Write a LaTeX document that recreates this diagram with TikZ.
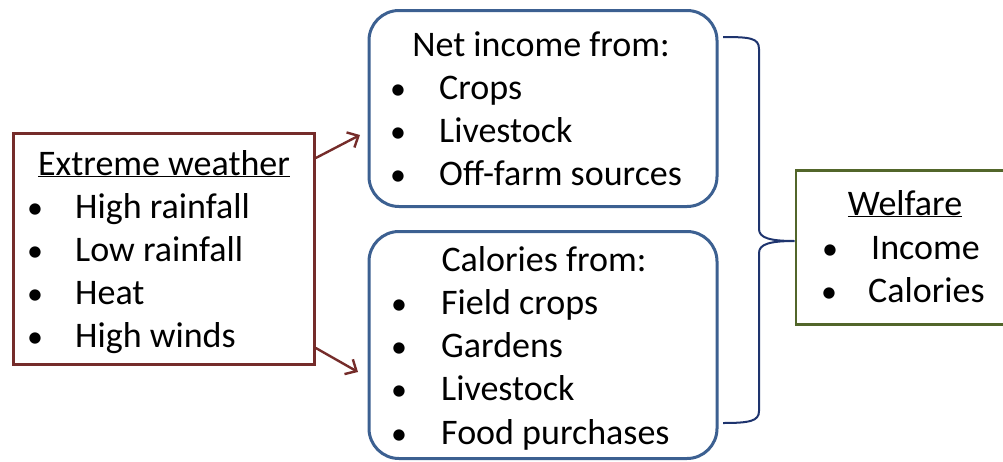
\documentclass[tikz,border=0pt]{standalone}
\usepackage{fontspec}
\setmainfont{Carlito}
\usetikzlibrary{arrows.meta}
\begin{document}
\begin{tikzpicture}[x=1pt, y=-1pt, font=\fontsize{36}{43}\selectfont]

\definecolor{cWx}{RGB}{117,44,42}
\definecolor{cBox}{RGB}{60,96,145}
\definecolor{cBrace}{RGB}{30,52,110}
\definecolor{cWel}{RGB}{82,102,42}

\tikzset{
  box/.style    = {draw, line width=2.6pt, inner sep=0pt},
  rbox/.style   = {box, cBox, line width=3pt, rounded corners=30pt},
  item/.style   = {inner sep=0pt, anchor=base west},
  bul/.style    = {inner sep=0pt, anchor=base, font=\fontsize{32}{43}\selectfont},
  head/.style   = {inner sep=0pt, anchor=base},
  arr/.style    = {cWx, line width=2.4pt, -{Straight Barb[length=9pt, width=17pt, line width=2.4pt]}},
  brc/.style    = {cBrace, line width=2pt},
}

\useasboundingbox (0,0) rectangle (1003,461);

%% ---------- the boxes ----------
\node[box, cWx,  minimum width=301, minimum height=231] (wx)  at (164,249)   {};
\node[rbox,      minimum width=348, minimum height=196] (net) at (543,108.5) {};
\node[rbox,      minimum width=348, minimum height=227] (cal) at (543,345)   {};
\node[box, cWel, minimum width=220, minimum height=154] (wel) at (906,247.5) {};

%% ---------- extreme weather ----------
\node[head] (wx-h) at (164,175) {\underline{Extreme weather}};
\foreach \t [count=\i] in {High rainfall, Low rainfall, Heat, High winds} {
  \node[bul]  (wx-b\i) at (35,175+43*\i) {•};
  \node[item] (wx-\i)  at (75,175+43*\i) {\t};
}

%% ---------- net income ----------
\node[head] (net-h) at (541,56) {Net income from:};
\foreach \t [count=\i] in {Crops, Livestock, Off-farm sources} {
  \node[bul]  (net-b\i) at (398,56+43*\i) {•};
  \node[item] (net-\i)  at (439,56+43*\i) {\t};
}

%% ---------- calories ----------
\node[head] (cal-h) at (544,271) {Calories from:};
\foreach \t [count=\i] in {Field crops, Gardens, Livestock, Food purchases} {
  \node[bul]  (cal-b\i) at (399,271+43.3*\i) {•};
  \node[item] (cal-\i)  at (441,271+43.3*\i) {\t};
}

%% ---------- welfare ----------
\node[head] (wel-h) at (905,215) {\underline{Welfare}};
\node[bul]  (wel-b1) at (830,259) {•};
\node[item] (wel-1)  at (871,259) {Income};
\node[bul]  (wel-b2) at (829,302) {•};
\node[item] (wel-2)  at (868,302) {Calories};

%% ---------- arrows ----------
\coordinate (a1) at (360,135);
\coordinate (a2) at (358,372);
\draw[arr] (wx.east |- 0,158) -- (a1);
\draw[arr] (wx.east |- 0,348) -- (a2);

%% ---------- brace ----------
\coordinate (bt)  at (723,37);
\coordinate (bb)  at (723,423);
\coordinate (tip) at (wel.west |- 0,241);
\draw[brc] (bt) .. controls (750,37) and (759,38) .. (759,49) -- (759,229)
  .. controls (759,238) and (770,241) .. (tip)
  .. controls (770,241) and (759,244) .. (759,253) -- (759,411)
  .. controls (759,421) and (750,423) .. (bb);

\end{tikzpicture}
\end{document}
